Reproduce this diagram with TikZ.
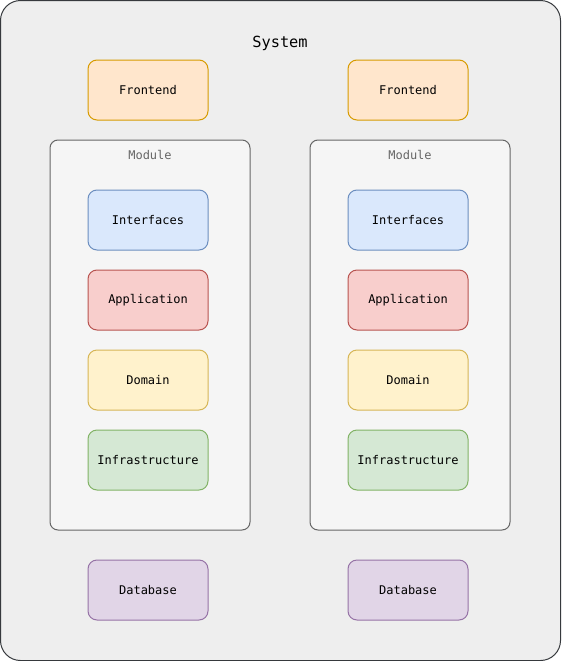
\documentclass[tikz,border=0pt]{standalone}
\usepackage{fontspec}
\setmonofont{DejaVu Sans Mono}
\usetikzlibrary{positioning}

\definecolor{sysfill}{HTML}{EEEEEE}
\definecolor{sysline}{HTML}{36393D}
\definecolor{modfill}{HTML}{F5F5F5}
\definecolor{modline}{HTML}{666666}
\definecolor{fefill}{HTML}{FFE6CC}
\definecolor{feline}{HTML}{D79B00}
\definecolor{iffill}{HTML}{DAE8FC}
\definecolor{ifline}{HTML}{6C8EBF}
\definecolor{appfill}{HTML}{F8CECC}
\definecolor{appline}{HTML}{B85450}
\definecolor{domfill}{HTML}{FFF2CC}
\definecolor{domline}{HTML}{D6B656}
\definecolor{infill}{HTML}{D5E8D4}
\definecolor{inline}{HTML}{82B366}
\definecolor{dbfill}{HTML}{E1D5E7}
\definecolor{dbline}{HTML}{9673A6}

\tikzset{
  sysbox/.style={draw=sysline,fill=sysfill,line width=0.75pt,rounded corners=15pt},
  modbox/.style={draw=modline,fill=modfill,line width=0.75pt,rounded corners=6pt,
    minimum width=150pt,minimum height=292.5pt,inner sep=0pt},
  layer/.style={line width=0.75pt,rounded corners=6.75pt,minimum width=90pt,
    minimum height=45pt,inner sep=0pt,outer sep=0pt,font=\ttfamily\fontsize{9}{11}\selectfont},
}

\begin{document}
\begin{tikzpicture}[x=0.75pt,y=-0.75pt]
  \useasboundingbox (0,0) rectangle (561,661);
  \draw[sysbox] (0.5,0.5) rectangle (560.5,660.5);
  \node[font=\ttfamily\fontsize{11.5}{14}\selectfont] (title) at (280,43) {System};

  \foreach \c/\n in {148/a,408/b}{
    \node[modbox] (mod\n) at (\c+2,335) {};
    \node[below=4.5pt of mod\n.north,text=modline,font=\ttfamily\fontsize{9}{11}\selectfont] (modlbl\n) {Module};

    \node[layer,draw=feline,fill=fefill] (fe\n) at (\c,90) {Frontend};
    \node[layer,draw=ifline,fill=iffill] (if\n) at (\c,220) {Interfaces};
    \node[layer,draw=appline,fill=appfill,below=15pt of if\n] (app\n) {Application};
    \node[layer,draw=domline,fill=domfill,below=15pt of app\n] (dom\n) {Domain};
    \node[layer,draw=inline,fill=infill,below=15pt of dom\n] (inf\n) {Infrastructure};
    \node[layer,draw=dbline,fill=dbfill] (db\n) at (\c,590) {Database};
  }
\end{tikzpicture}
\end{document}
